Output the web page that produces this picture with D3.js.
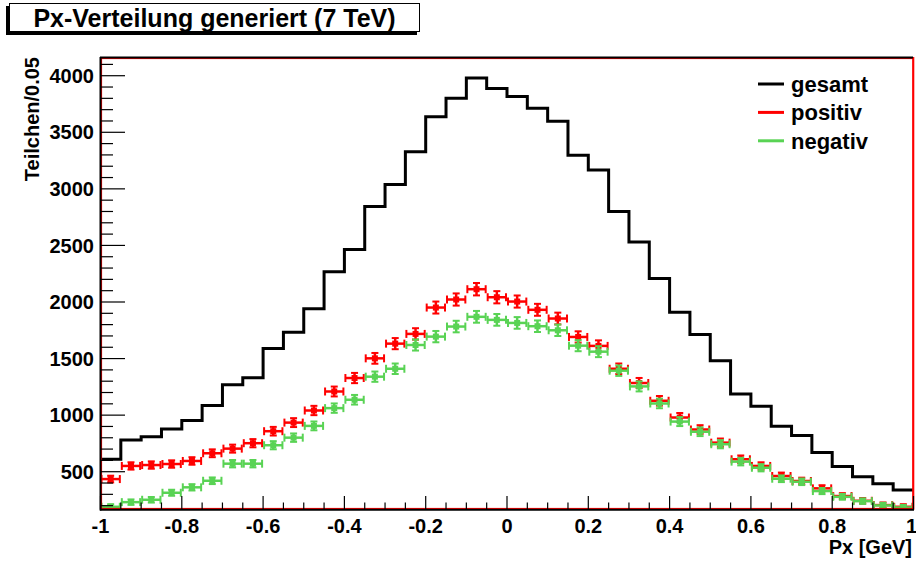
<!DOCTYPE html>
<html>
<head>
<meta charset="utf-8">
<script src="https://cdn.jsdelivr.net/npm/d3@7"></script>
<style>
  body { margin: 0; background: #fff; }
  svg { display: block; font-family: "Liberation Sans", Arial, Helvetica, sans-serif; font-weight: bold; }
</style>
</head>
<body>
<svg id="chart" width="916" height="563"></svg>
<script>
// bin edges: -1 .. 1 in steps of 0.05 (40 bins)
const binLow = d3.range(40).map(i => -1 + i * 0.05);
const binWidth = 0.05;

const gesamt = [610, 781, 810, 878, 952, 1085, 1269, 1331, 1588, 1732,
  1940, 2268, 2463, 2844, 3039, 3328, 3638, 3801, 3979, 3887,
  3816, 3713, 3598, 3296, 3166, 2800, 2530, 2208, 1910, 1712,
  1481, 1186, 1078, 902, 821, 670, 546, 455, 393, 338];

const positiv = [435, 551, 559, 568, 595, 663, 704, 752, 858, 934,
  1041, 1209, 1328, 1502, 1632, 1718, 1951, 2022, 2113, 2042,
  2004, 1931, 1854, 1691, 1612, 1410, 1284, 1127, 979, 873,
  757, 610, 551, 462, 418, 353, 285, 243, 205, 190];

const negativ = [190, 231, 252, 314, 362, 420, 571, 571, 734, 801,
  905, 1062, 1136, 1340, 1410, 1620, 1694, 1783, 1869, 1842,
  1815, 1786, 1750, 1614, 1561, 1393, 1254, 1103, 943, 853,
  743, 589, 535, 438, 411, 329, 278, 240, 202, 184];

const xTicks = [-1, -0.8, -0.6, -0.4, -0.2, 0, 0.2, 0.4, 0.6, 0.8, 1];
const yTicks = [500, 1000, 1500, 2000, 2500, 3000, 3500, 4000];

const legendItems = [
  { label: `gesamt`, color: `#000000` },
  { label: `positiv`, color: `#ff0000` },
  { label: `negativ`, color: `#59d354` }
];

const svg = d3.select(`#chart`);

const x = d3.scaleLinear().domain([-1, 1]).range([100.5, 913.5]);
const y = d3.scaleLinear().domain([166, 4161]).range([509.5, 57.5]);

// title box with shadow
svg.append(`rect`).attr(`x`, 6).attr(`y`, 6).attr(`width`, 411).attr(`height`, 29).attr(`fill`, `#000`);
svg.append(`rect`).attr(`x`, 9.5).attr(`y`, 3.5).attr(`width`, 410).attr(`height`, 28)
  .attr(`fill`, `#fff`).attr(`stroke`, `#000`).attr(`stroke-width`, 1);
svg.append(`text`).attr(`x`, 214.5).attr(`y`, 26.5).attr(`text-anchor`, `middle`)
  .style(`font-size`, `25px`).text(`Px-Verteilung generiert (7 TeV)`);

// plot area
const defs = svg.append(`defs`);
defs.append(`clipPath`).attr(`id`, `clip`)
  .append(`rect`).attr(`x`, 101).attr(`y`, 58).attr(`width`, 812).attr(`height`, 451);

const plot = svg.append(`g`).attr(`clip-path`, `url(#clip)`);

// gesamt as step outline
const stepPts = binLow.map((b, i) => [b, gesamt[i]]);
stepPts.push([1, gesamt[gesamt.length - 1]]);
plot.append(`path`)
  .datum(stepPts)
  .attr(`fill`, `none`)
  .attr(`stroke`, `#000`)
  .attr(`stroke-width`, 3)
  .attr(`d`, d3.line().x(d => x(d[0])).y(d => y(d[1])).curve(d3.curveStepAfter));

const drawErrors = (values, color) => {
  const g = plot.append(`g`).attr(`stroke`, color).attr(`fill`, color);
  values.forEach((v, i) => {
    const x0 = x(binLow[i]);
    const x1 = x(binLow[i] + binWidth);
    const cx = (x0 + x1) / 2;
    const cy = y(v);
    const err = Math.sqrt(v);
    const yTop = y(v + err);
    const yBot = y(v - err);
    g.append(`line`).attr(`x1`, x0 + 1).attr(`x2`, x1 - 1).attr(`y1`, cy).attr(`y2`, cy).attr(`stroke-width`, 2.5);
    g.append(`line`).attr(`x1`, x0 + 1).attr(`x2`, x0 + 1).attr(`y1`, cy - 4).attr(`y2`, cy + 4).attr(`stroke-width`, 2);
    g.append(`line`).attr(`x1`, x1 - 1).attr(`x2`, x1 - 1).attr(`y1`, cy - 4).attr(`y2`, cy + 4).attr(`stroke-width`, 2);
    g.append(`line`).attr(`x1`, cx).attr(`x2`, cx).attr(`y1`, yTop - 1).attr(`y2`, yBot + 1).attr(`stroke-width`, 2.5);
    g.append(`line`).attr(`x1`, cx - 3.5).attr(`x2`, cx + 3.5).attr(`y1`, yTop - 1).attr(`y2`, yTop - 1).attr(`stroke-width`, 2);
    g.append(`line`).attr(`x1`, cx - 3.5).attr(`x2`, cx + 3.5).attr(`y1`, yBot + 1).attr(`y2`, yBot + 1).attr(`stroke-width`, 2);
    g.append(`rect`).attr(`x`, cx - 3).attr(`y`, cy - 3).attr(`width`, 6).attr(`height`, 6).attr(`stroke`, `none`);
  });
};

drawErrors(positiv, `#ff0000`);
drawErrors(negativ, `#59d354`);

// frame
svg.append(`rect`).attr(`x`, 101.5).attr(`y`, 58.5).attr(`width`, 811.5).attr(`height`, 450)
  .attr(`fill`, `none`).attr(`stroke`, `#ff0000`).attr(`stroke-width`, 1.2);
svg.append(`line`).attr(`x1`, 913.3).attr(`x2`, 913.3).attr(`y1`, 57).attr(`y2`, 510)
  .attr(`stroke`, `#ff0000`).attr(`stroke-width`, 2);
svg.append(`line`).attr(`x1`, 100.5).attr(`x2`, 100.5).attr(`y1`, 57).attr(`y2`, 510.5)
  .attr(`stroke`, `#000`).attr(`stroke-width`, 2);
svg.append(`line`).attr(`x1`, 100).attr(`x2`, 913).attr(`y1`, 57.5).attr(`y2`, 57.5)
  .attr(`stroke`, `#000`).attr(`stroke-width`, 2);
svg.append(`line`).attr(`x1`, 100).attr(`x2`, 914).attr(`y1`, 509.8).attr(`y2`, 509.8)
  .attr(`stroke`, `#000`).attr(`stroke-width`, 2);

// y axis ticks
const yMinor = d3.range(200, 4200, 100);
svg.append(`g`).selectAll(`line`)
  .data(yMinor)
  .enter().append(`line`)
    .attr(`x1`, 101)
    .attr(`x2`, d => d % 500 === 0 ? 125 : 113)
    .attr(`y1`, d => y(d))
    .attr(`y2`, d => y(d))
    .attr(`stroke`, `#000`)
    .attr(`stroke-width`, 1.2);

svg.append(`g`).selectAll(`text`)
  .data(yTicks)
  .enter().append(`text`)
    .attr(`x`, 94)
    .attr(`y`, d => y(d))
    .attr(`dy`, `0.36em`)
    .attr(`text-anchor`, `end`)
    .style(`font-size`, `20px`)
    .text(d => d);

// x axis ticks
const xMinor = d3.range(41).map(i => -1 + i * 0.05);
svg.append(`g`).selectAll(`line`)
  .data(xMinor)
  .enter().append(`line`)
    .attr(`x1`, d => x(d))
    .attr(`x2`, d => x(d))
    .attr(`y1`, 509)
    .attr(`y2`, (d, i) => i % 4 === 0 ? 496 : 502.5)
    .attr(`stroke`, `#000`)
    .attr(`stroke-width`, 1.2);

svg.append(`g`).selectAll(`text`)
  .data(xTicks)
  .enter().append(`text`)
    .attr(`x`, d => x(d) - (d === 1 ? 2 : 0))
    .attr(`y`, 533)
    .attr(`text-anchor`, `middle`)
    .style(`font-size`, `20px`)
    .text(d => d3.format(`~g`)(d).replace(`−`, `-`));

// axis titles
svg.append(`text`).attr(`x`, 912).attr(`y`, 554).attr(`text-anchor`, `end`)
  .style(`font-size`, `20px`).text(`Px [GeV]`);
svg.append(`text`).attr(`transform`, `translate(39,57) rotate(-90)`).attr(`text-anchor`, `end`)
  .style(`font-size`, `20px`).text(`Teilchen/0.05`);

// legend
const legend = svg.append(`g`).selectAll(`g`)
  .data(legendItems)
  .enter().append(`g`)
    .attr(`transform`, (d, i) => `translate(758,${84 + i * 28.4})`);
legend.append(`line`).attr(`x1`, 0).attr(`x2`, 26).attr(`y1`, 0).attr(`y2`, 0)
  .attr(`stroke`, d => d.color).attr(`stroke-width`, 3);
legend.append(`text`).attr(`x`, 33).attr(`dy`, `0.36em`)
  .style(`font-size`, `22px`).text(d => d.label);
</script>
</body>
</html>
